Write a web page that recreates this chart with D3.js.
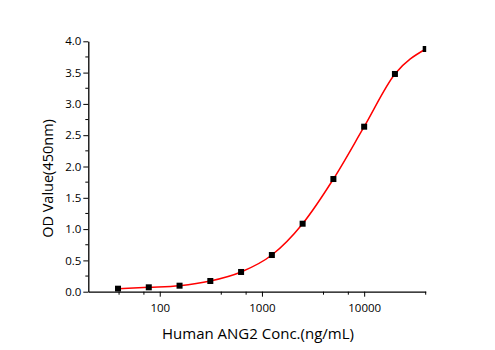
<!DOCTYPE html>
<html>
<head>
<meta charset="utf-8">
<script src="https://cdn.jsdelivr.net/npm/d3@7"></script>
<style>
  body { margin: 0; background: #fff; }
  svg { display: block; font-family: "Open Sans", sans-serif; }
</style>
</head>
<body>
<svg id="chart"></svg>
<script>
// standard curve: concentration (ng/mL) vs OD at 450nm
const concentrations = [39.0625, 78.125, 156.25, 312.5, 625, 1250, 2500, 5000, 10000, 20000, 40000];
const odValues = [0.048, 0.07, 0.096, 0.171, 0.315, 0.586, 1.086, 1.80, 2.636, 3.478, 3.877];

const xMajorTicks = [100, 1000, 10000];
const xMinorTicks = [40, 70, 400, 700, 4000, 7000, 40000];
const yMajorTicks = [0, 0.5, 1, 1.5, 2, 2.5, 3, 3.5, 4];
const yMinorTicks = [0.25, 0.75, 1.25, 1.75, 2.25, 2.75, 3.25, 3.75];

const W = 495, H = 350;
const plot = {left: 88.3, right: 425.7, top: 41.3, bottom: 291.7};

const svg = d3.select("#chart").attr("width", W).attr("height", H);

const x = d3.scaleLog().domain([20, 40000]).range([plot.left, plot.right]);
const y = d3.scaleLinear().domain([0, 4]).range([plot.bottom, plot.top]);

const data = concentrations.map((c, i) => ({conc: c, od: odValues[i]}));

// clip marks to the plot frame like the original
svg.append("clipPath").attr("id", "plotclip")
  .append("rect")
  .attr("x", plot.left).attr("y", plot.top - 6)
  .attr("width", plot.right - plot.left + 0.5)
  .attr("height", plot.bottom - plot.top + 6);

// x axis
const xAxis = svg.append("g").attr("transform", `translate(0,${plot.bottom})`);
xAxis.call(d3.axisBottom(x).tickValues(xMajorTicks).tickFormat(d3.format("d")).tickSize(5).tickSizeOuter(0));
xAxis.append("g").selectAll("line")
  .data(xMinorTicks)
  .enter().append("line")
  .attr("x1", d => x(d)).attr("x2", d => x(d))
  .attr("y1", 0).attr("y2", 3)
  .attr("stroke", "#000");

// y axis
const yAxis = svg.append("g").attr("transform", `translate(${plot.left},0)`);
yAxis.call(d3.axisLeft(y).tickValues(yMajorTicks).tickFormat(d3.format(".1f")).tickSize(5).tickSizeOuter(0));
yAxis.append("g").selectAll("line")
  .data(yMinorTicks)
  .enter().append("line")
  .attr("y1", d => y(d)).attr("y2", d => y(d))
  .attr("x1", 0).attr("x2", -3)
  .attr("stroke", "#000");

svg.selectAll(".domain").attr("stroke", "#000").attr("stroke-width", 1.3);
svg.selectAll(".tick line").attr("stroke", "#000").attr("stroke-width", 1);
svg.selectAll(".tick text")
  .attr("font-family", "Open Sans, sans-serif")
  .attr("font-size", 11.5)
  .attr("fill", "#000");
xAxis.selectAll(".tick text").attr("dy", "1.05em");
yAxis.selectAll(".tick text").attr("x", -7);

// fitted curve
const line = d3.line()
  .x(d => x(d.conc))
  .y(d => y(d.od))
  .curve(d3.curveMonotoneX);

svg.append("path")
  .datum(data)
  .attr("d", line)
  .attr("fill", "none")
  .attr("stroke", "#ff0000")
  .attr("stroke-width", 1.5);

// points
svg.append("g").attr("clip-path", "url(#plotclip)")
  .selectAll("rect.pt")
  .data(data)
  .enter().append("rect")
  .attr("class", "pt")
  .attr("x", d => x(d.conc) - 3)
  .attr("y", d => y(d.od) - 3)
  .attr("width", 6)
  .attr("height", 6)
  .attr("fill", "#000");

// axis titles
svg.append("text")
  .attr("x", (plot.left + plot.right) / 2 + 1)
  .attr("y", 339)
  .attr("text-anchor", "middle")
  .attr("font-size", 15)
  .text("Human ANG2 Conc.(ng/mL)");

svg.append("text")
  .attr("transform", `translate(53,178.5) rotate(-90)`)
  .attr("text-anchor", "middle")
  .attr("font-size", 14.5)
  .text("OD Value(450nm)");
</script>
</body>
</html>
